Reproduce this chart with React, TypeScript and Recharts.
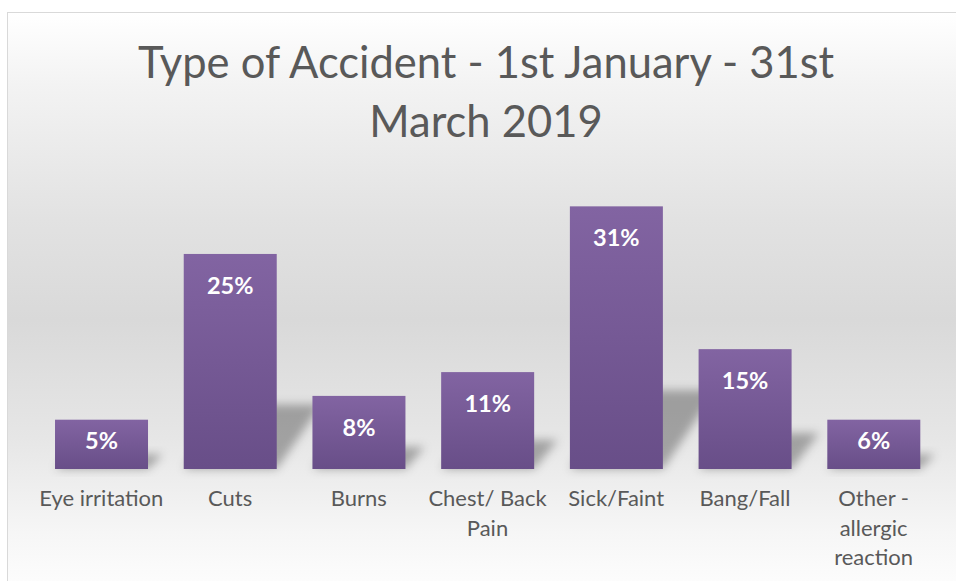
import React from 'react';
import { BarChart, Bar, XAxis, YAxis, LabelList } from 'recharts';

// Accident categories and share of accidents (Q1 2019)
const categories = [
  'Eye irritation',
  'Cuts',
  'Burns',
  'Chest/ Back Pain',
  'Sick/Faint',
  'Bang/Fall',
  'Other - allergic reaction',
];
// how each category name breaks over lines under the axis
const categoryLines = [
  ['Eye irritation'],
  ['Cuts'],
  ['Burns'],
  ['Chest/ Back', 'Pain'],
  ['Sick/Faint'],
  ['Bang/Fall'],
  ['Other -', 'allergic', 'reaction'],
];
const values = [5.8, 25.3, 8.6, 11.4, 30.9, 14.1, 5.8];
const valueLabels = ['5%', '25%', '8%', '11%', '31%', '15%', '6%'];

const data = categories.map((name, i) => ({
  name,
  value: values[i],
  label: valueLabels[i],
  lines: categoryLines[i],
}));

const FONT = 'Lato, "Open Sans", sans-serif';
const GREY_TEXT = '#595959';

// bar with a soft skewed shadow falling to the right
const ShadowBar = (props: any) => {
  const { x, y, width, height } = props;
  if (!height || height <= 0) return null;
  const b = y + height;
  const t = height * 0.3;
  const s = height * 0.18 + 6;
  const pts = `${x},${b} ${x + width},${b} ${x + width + s},${b - t} ${x + s},${b - t}`;
  return (
    <g>
      <polygon points={pts} fill="rgba(0,0,0,0.3)" filter="url(#barShadow)" />
      <rect x={x} y={y} width={width} height={height} fill="url(#barFill)" />
    </g>
  );
};

const ValueLabel = (props: any) => {
  const { x, y, width, height, index } = props;
  const cy = Math.min(y + 31, y + height / 2 - 4);
  return (
    <text
      x={x + width / 2}
      y={cy}
      textAnchor="middle"
      dominantBaseline="central"
      fill="#ffffff"
      fontFamily={FONT}
      fontWeight={700}
      fontSize={23.5}
    >
      {data[index].label}
    </text>
  );
};

const CategoryTick = (props: any) => {
  const { x, y, index } = props;
  const lines: string[] = data[index]?.lines || [];
  return (
    <text x={x} y={y + 29} textAnchor="middle" fill={GREY_TEXT} fontFamily={FONT} fontSize={22}>
      {lines.map((ln, i) => (
        <tspan key={i} x={x} dy={i === 0 ? 0 : 29.5}>
          {ln}
        </tspan>
      ))}
    </text>
  );
};

export default function App() {
  return (
    <div style={{ position: 'fixed', left: 0, top: 0, width: 956, height: 581, overflow: 'hidden', background: '#ffffff' }}>
      {/* chart frame with grey gradient */}
      <div
        style={{
          position: 'absolute',
          left: 7,
          top: 12,
          width: 960,
          height: 590,
          border: '1px solid #d9d9d9',
          background: 'linear-gradient(to bottom, #ffffff 0%, #f3f3f3 12%, #e2e2e2 35%, #d9d9d9 52%, #e6e6e6 72%, #f6f6f6 88%, #ffffff 100%)',
        }}
      />
      <div
        style={{
          position: 'absolute',
          left: 7,
          width: 958,
          top: 32,
          textAlign: 'center',
          fontFamily: FONT,
          fontSize: 43.5,
          lineHeight: '59px',
          color: GREY_TEXT,
        }}
      >
        Type of Accident - 1st January - 31st
        <br />
        March 2019
      </div>
      <div style={{ position: 'absolute', left: 0, top: 0 }}>
        <BarChart
          width={956}
          height={581}
          data={data}
          margin={{ top: 197, right: 18, left: 37, bottom: 0 }}
          barCategoryGap="14%"
        >
          <defs>
            <linearGradient id="barFill" x1="0" y1="0" x2="0" y2="1">
              <stop offset="0%" stopColor="#8264a2" />
              <stop offset="100%" stopColor="#684e88" />
            </linearGradient>
            <filter id="barShadow" x="-50%" y="-50%" width="200%" height="200%">
              <feGaussianBlur stdDeviation="5" />
            </filter>
          </defs>
          <XAxis
            dataKey="name"
            axisLine={false}
            tickLine={false}
            interval={0}
            height={112}
            tick={<CategoryTick />}
          />
          <YAxis hide domain={[0, 32]} />
          <Bar dataKey="value" shape={<ShadowBar />} isAnimationActive={false}>
            <LabelList dataKey="value" content={<ValueLabel />} />
          </Bar>
        </BarChart>
      </div>
    </div>
  );
}
